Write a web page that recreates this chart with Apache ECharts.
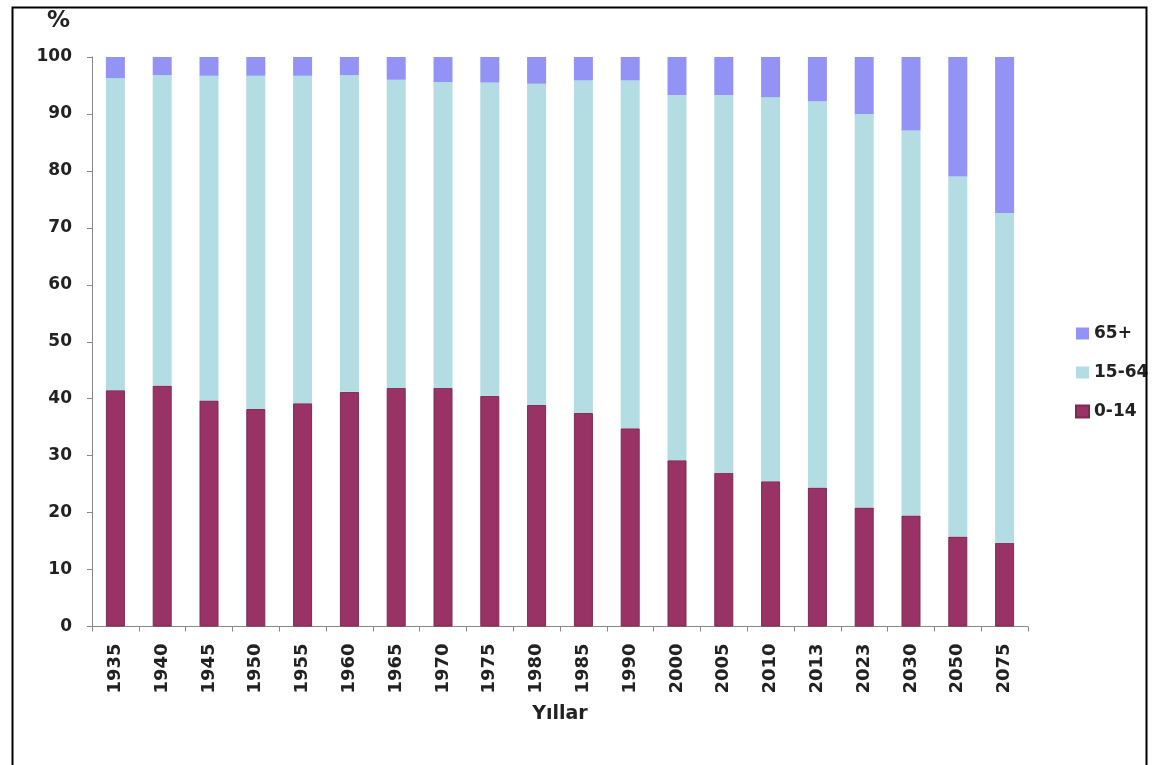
<!DOCTYPE html>
<html>
<head>
<meta charset="utf-8">
<script src="https://cdn.jsdelivr.net/npm/echarts@6/dist/echarts.min.js"></script>
<style>
  html, body { margin: 0; padding: 0; background: #fff; }
  #chart { width: 1157px; height: 765px; }
</style>
</head>
<body>
<div id="chart"></div>
<script>
// Age-group shares of the population (%), by year
const years = ['1935','1940','1945','1950','1955','1960','1965','1970','1975','1980',
               '1985','1990','2000','2005','2010','2013','2023','2030','2050','2075'];
const age0to14 = [41.5, 42.3, 39.7, 38.2, 39.2, 41.2, 41.9, 41.9, 40.5, 38.9,
                  37.5, 34.8, 29.2, 27.0, 25.5, 24.4, 20.9, 19.5, 15.8, 14.7];
const age65plus = [3.7, 3.2, 3.3, 3.3, 3.3, 3.2, 4.0, 4.4, 4.5, 4.7,
                   4.1, 4.1, 6.7, 6.7, 7.1, 7.8, 10.0, 12.9, 21.0, 27.4];
const age15to64 = age0to14.map((v, i) => +(100 - v - age65plus[i]).toFixed(1));
const yTicks = [0, 10, 20, 30, 40, 50, 60, 70, 80, 90, 100];

const FONT = '"DejaVu Sans", Verdana, sans-serif';
const TEXT = '#222';
const chart = echarts.init(document.getElementById('chart'), null, { renderer: 'canvas' });

chart.setOption({
  backgroundColor: '#ffffff',
  animation: false,
  graphic: [
    {
      type: 'rect', left: 10, top: 5,
      shape: { width: 1134, height: 820 },
      style: { fill: 'none', stroke: '#000', lineWidth: 2 }, z: 10
    },
    {
      type: 'text', left: 47, top: 10,
      style: { text: '%', font: 'bold 23px ' + FONT, fill: TEXT }
    }
  ],
  grid: { left: 92, right: 129, top: 57, bottom: 138.5 },
  legend: {
    orient: 'vertical',
    left: 1070, top: 320,
    itemWidth: 13, itemHeight: 12, itemGap: 22,
    icon: 'rect',
    data: ['65+', '15-64', '0-14'],
    textStyle: { fontFamily: FONT, fontWeight: 'bold', fontSize: 17, color: TEXT }
  },
  xAxis: {
    type: 'category',
    data: years,
    name: 'Yıllar',
    nameLocation: 'middle',
    nameGap: 78,
    nameTextStyle: { fontFamily: FONT, fontWeight: 'bold', fontSize: 19, color: TEXT },
    axisLine: { lineStyle: { color: '#888', width: 1 } },
    axisTick: { show: true, alignWithLabel: false, length: 5, lineStyle: { color: '#888' } },
    axisLabel: {
      rotate: 90, margin: 17, interval: 0,
      fontFamily: FONT, fontWeight: 'bold', fontSize: 18, color: TEXT
    }
  },
  yAxis: {
    type: 'value',
    min: yTicks[0], max: yTicks[yTicks.length - 1], interval: 10,
    splitLine: { show: false },
    axisLine: { show: true, lineStyle: { color: '#888', width: 1 } },
    axisTick: { show: true, length: 5, lineStyle: { color: '#888' } },
    axisLabel: { margin: 20, fontFamily: FONT, fontWeight: 'bold', fontSize: 17, color: TEXT }
  },
  series: [
    {
      name: '0-14', type: 'bar', stack: 'age', barWidth: 19,
      data: age0to14,
      itemStyle: { color: '#993366', borderColor: '#7d2a52', borderWidth: 1 }
    },
    {
      name: '15-64', type: 'bar', stack: 'age', barWidth: 19,
      data: age15to64,
      itemStyle: { color: '#b3dde3' }
    },
    {
      name: '65+', type: 'bar', stack: 'age', barWidth: 19,
      data: age65plus,
      itemStyle: { color: '#9393f5' }
    }
  ]
});
</script>
</body>
</html>
